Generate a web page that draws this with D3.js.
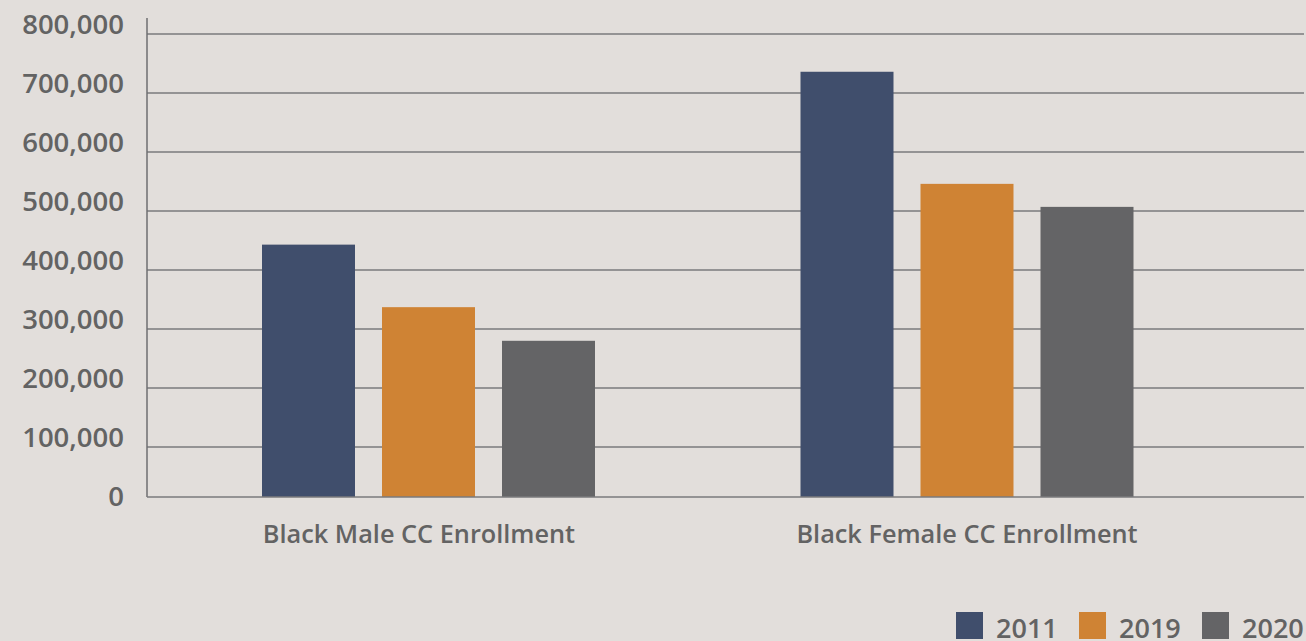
<!DOCTYPE html>
<html><head><meta charset="utf-8">
<script src="https://cdn.jsdelivr.net/npm/d3@7"></script>
<style>
html,body{margin:0;padding:0;background:#e2dedb;}
svg{display:block;}
text{font-family:"Open Sans","Noto Sans",sans-serif;font-weight:600;fill:#636363;}
</style></head><body>
<svg id="c" width="1306" height="641"></svg>
<script>
const categories = ["Black Male CC Enrollment", "Black Female CC Enrollment"];
const years = ["2011", "2019", "2020"];
const values2011 = [443000, 736000];
const values2019 = [337000, 546000];
const values2020 = [280000, 507000];
const tickValues = [0, 100000, 200000, 300000, 400000, 500000, 600000, 700000, 800000];
const colors = ["#404e6c", "#cf8334", "#646466"];

const series = [values2011, values2019, values2020];
const svg = d3.select("#c");

// plot region
const left = 147, right = 1304;
// y scale (baseline drawn slightly raised, as in the original)
const y = d3.scaleLinear().domain([0, 100000, 800000]).range([497, 447, 34]);
const yLab = d3.scaleLinear().domain([0, 800000]).range([506, 34]);

const x0 = d3.scaleBand().domain(categories).range([159.25, 1236.25]);
const x1 = d3.scaleBand().domain(years).range([-180, 180]).paddingInner(0.225).paddingOuter(0.1125);
const color = d3.scaleOrdinal().domain(years).range(colors);

// gridlines
svg.append("g").selectAll("line").data(tickValues.filter(v => v > 0)).join("line")
  .attr("x1", left).attr("x2", right)
  .attr("y1", d => y(d)).attr("y2", d => y(d))
  .attr("stroke", "#7a7a7c").attr("stroke-width", 1.5);

// bars
const rows = [];
categories.forEach((c, i) => years.forEach((yr, j) => rows.push({c, yr, v: series[j][i]})));
svg.append("g").selectAll("rect").data(rows).join("rect")
  .attr("x", d => x0(d.c) + x0.bandwidth() / 2 + x1(d.yr))
  .attr("width", x1.bandwidth())
  .attr("y", d => y(d.v))
  .attr("height", d => y(0) - y(d.v))
  .attr("fill", d => color(d.yr));

// axes lines
svg.append("line").attr("x1", left).attr("x2", left).attr("y1", 18).attr("y2", y(0))
  .attr("stroke", "#6e6e70").attr("stroke-width", 1.5);
svg.append("line").attr("x1", left).attr("x2", right).attr("y1", y(0)).attr("y2", y(0))
  .attr("stroke", "#7a7a7c").attr("stroke-width", 1.5);

// y tick labels
const fmt = d3.format(",");
svg.append("g").selectAll("text").data(tickValues).join("text")
  .attr("x", 124).attr("y", d => yLab(d) - 9.5)
  .attr("dy", "0.36em")
  .attr("text-anchor", "end")
  .style("font-size", "27.5px")
  .text(d => fmt(d));

// category labels
svg.append("g").selectAll("text").data(categories).join("text")
  .attr("x", d => x0(d) + x0.bandwidth() / 2 - (d === categories[0] ? 9.5 : 0))
  .attr("y", 543)
  .attr("text-anchor", "middle")
  .style("font-size", "25.3px")
  .text(d => d);

// legend
const legX = [956, 1079, 1202];
const leg = svg.append("g").selectAll("g").data(years).join("g")
  .attr("transform", (d, i) => `translate(${legX[i]},612)`);
leg.append("rect").attr("width", 27).attr("height", 27).attr("fill", d => color(d));
leg.append("text").attr("x", 40).attr("y", 25.5).style("font-size", "27px").text(d => d);
</script>
</body></html>
